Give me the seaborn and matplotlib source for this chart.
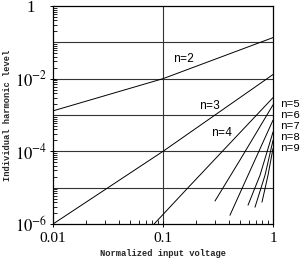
import matplotlib
matplotlib.use("Agg")
import matplotlib.pyplot as plt
import seaborn as sns
import pandas as pd
import numpy as np

# ---- data ----
n2_v = [0.01, 0.1, 1.0]
n2_l = [1.3e-3, 1.0e-2, 1.35e-1]
n3_v = [0.01, 0.1, 1.0]
n3_l = [1.0e-6, 1.0e-4, 1.3e-2]
n4_v = [0.083, 0.169, 1.0]
n4_l = [1.0e-6, 1.0e-5, 3.0e-3]
n5_v = [0.297, 0.50, 1.0]
n5_l = [4.3e-6, 5.7e-5, 1.9e-3]
n6_v = [0.406, 0.593, 1.0]
n6_l = [1.74e-6, 2.2e-5, 7.2e-4]
n7_v = [0.593, 0.762, 1.0]
n7_l = [3.3e-6, 2.2e-5, 3.4e-4]
n8_v = [0.686, 0.846, 1.0]
n8_l = [2.9e-6, 2.2e-5, 2.0e-4]
n9_v = [0.794, 0.901, 1.0]
n9_l = [4.0e-6, 2.2e-5, 1.2e-4]

series_names = ["n=2", "n=3", "n=4", "n=5", "n=6", "n=7", "n=8", "n=9"]
series_v = [n2_v, n3_v, n4_v, n5_v, n6_v, n7_v, n8_v, n9_v]
series_l = [n2_l, n3_l, n4_l, n5_l, n6_l, n7_l, n8_l, n9_l]

xtick_vals = [0.01, 0.1, 1]
xtick_labels = ["0.01", "0.1", "1"]
ytick_vals = [1e-6, 1e-4, 1e-2, 1]
ytick_labels = [r"$10^{-6}$", r"$10^{-4}$", r"$10^{-2}$", "1   "]

# label anchor positions (inside labels and right-hand labels)
inside_labels = ["n=2", "n=3", "n=4"]
inside_v = [0.155, 0.267, 0.344]
inside_l = [10 ** -1.46, 10 ** -2.755, 10 ** -3.5]
right_labels = ["n=5", "n=6", "n=7", "n=8", "n=9"]
right_l = [10 ** -2.70, 10 ** -3.0, 10 ** -3.30, 10 ** -3.60, 10 ** -3.90]

rows = []
for name, vs, ls in zip(series_names, series_v, series_l):
    for v, l in zip(vs, ls):
        rows.append({"series": name, "V": v, "L": l})
df = pd.DataFrame(rows)

sns.set_style("white")
plt.rcParams["font.family"] = ["Liberation Serif", "DejaVu Serif"]
plt.rcParams["mathtext.fontset"] = "stix"

fig = plt.figure(figsize=(3.05, 2.59), dpi=100)
ax = fig.add_axes([53 / 305, 35 / 259, 220 / 305, 218 / 259])

sns.lineplot(data=df, x="V", y="L", units="series", estimator=None,
             color="black", linewidth=0.7, ax=ax, sort=False)

ax.set_xscale("log")
ax.set_yscale("log")
ax.set_xlim(0.01, 1)
ax.set_ylim(1e-6, 1)

# grid
for yv in [1e-1, 1e-2, 1e-3, 1e-4, 1e-5]:
    ax.axhline(yv, color="#333333", linewidth=0.8, zorder=0)
ax.axvline(0.1, color="#333333", linewidth=0.8, zorder=0)

for s in ax.spines.values():
    s.set_visible(True)
    s.set_color("black")
    s.set_linewidth(0.9)

ax.set_xticks(xtick_vals)
ax.set_xticklabels(xtick_labels, fontsize=11)
ax.set_yticks(ytick_vals)
ax.set_yticklabels(ytick_labels, fontsize=12)
ax.xaxis.set_minor_locator(matplotlib.ticker.LogLocator(base=10, subs=np.arange(2, 10)))
ax.yaxis.set_minor_locator(matplotlib.ticker.LogLocator(base=10, subs=np.arange(2, 10), numticks=20))
ax.xaxis.set_minor_formatter(matplotlib.ticker.NullFormatter())
ax.yaxis.set_minor_formatter(matplotlib.ticker.NullFormatter())
ax.tick_params(axis="both", which="both", bottom=True, left=True, top=False, right=False)
ax.tick_params(axis="both", which="major", direction="inout", length=4,
               width=0.7, colors="black", labelcolor="black")
ax.tick_params(axis="x", which="major", pad=4)
ax.tick_params(axis="y", which="major", pad=2)
ax.tick_params(axis="both", which="minor", direction="in", length=3, width=0.6,
               colors="black")

ax.set_xlabel("Normalized input voltage", fontsize=6.3, fontweight="bold",
              family="Liberation Mono", va="center")
ax.xaxis.set_label_coords(0.5, -0.137)
ax.set_ylabel("Individual harmonic level", fontsize=6.3, fontweight="bold",
              family="Liberation Mono", va="center")
ax.yaxis.set_label_coords(-0.205, 0.5)

for t, v, l in zip(inside_labels, inside_v, inside_l):
    ax.text(v, l, t, fontsize=8.5, ha="center", va="center", color="black",
            family="Liberation Mono")
for t, l in zip(right_labels, right_l):
    ax.text(1.16, l, t, fontsize=8, ha="left", va="center", color="black",
            family="Liberation Mono", clip_on=False)

fig.savefig("out.png", dpi=100, facecolor="white")
